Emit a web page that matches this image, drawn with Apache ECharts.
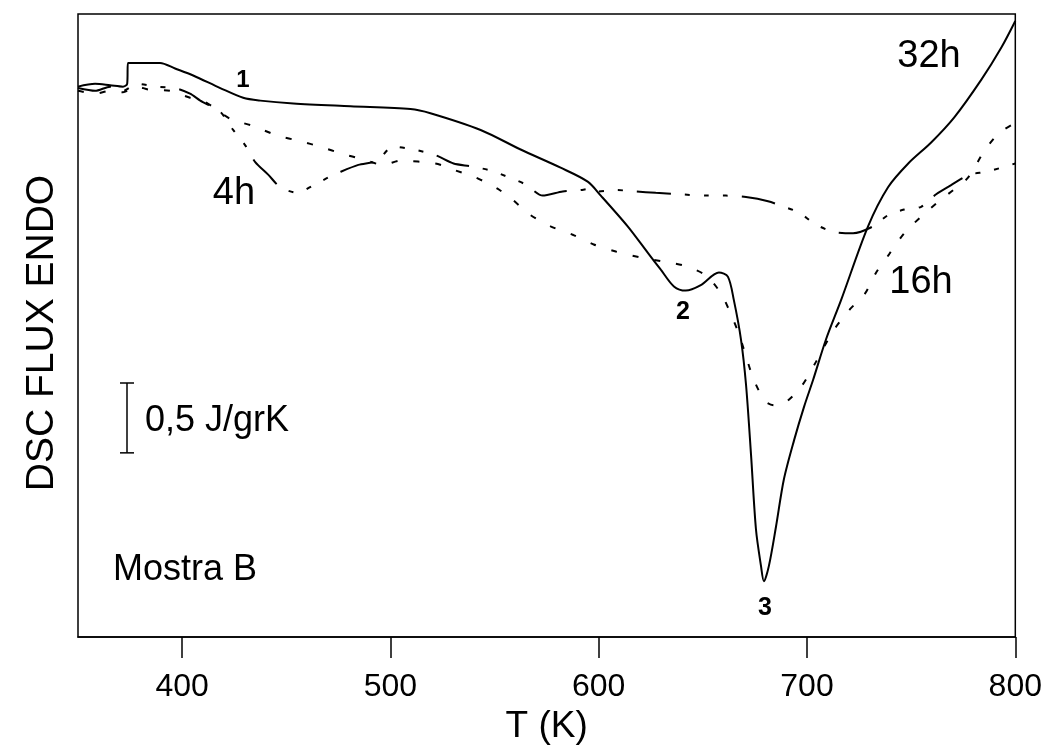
<!DOCTYPE html>
<html>
<head>
<meta charset="utf-8">
<script src="https://cdn.jsdelivr.net/npm/echarts@6/dist/echarts.min.js"></script>
<style>html,body{margin:0;padding:0;background:#fff;}#c{width:1045px;height:750px;}</style>
</head>
<body>
<div id="c"></div>
<script>
// Temperature ticks (K)
const xTicks = [400, 500, 600, 700, 800];

// 32h curve (solid): T (K) and DSC signal (J/grK, relative)
const t32 = [350, 358.2, 365.4, 371.6, 373.6, 374.0, 382.2, 389.4, 396.6, 405.3, 418.3, 429.3, 437.5, 453.4, 480.8, 509.6, 519.2, 543.3, 562.5, 581.7, 594.7, 601.0, 613.9, 623.6, 629.8, 636.1, 641.8, 649.0, 657.7, 662.0, 664.9, 668.3, 670.7, 673.1, 675.5, 677.9, 679.3, 681.7, 685.1, 688.9, 693.8, 698.6, 702.9, 709.1, 716.3, 729.3, 738.9, 748.6, 759.6, 770.7, 783.7, 793.3, 800];
const v32 = [3.94, 3.96, 3.95, 3.94, 3.96, 4.11, 4.11, 4.11, 4.07, 4.02, 3.93, 3.86, 3.84, 3.82, 3.80, 3.78, 3.75, 3.63, 3.49, 3.36, 3.26, 3.16, 2.94, 2.75, 2.63, 2.51, 2.48, 2.52, 2.61, 2.58, 2.41, 2.13, 1.81, 1.31, 0.77, 0.51, 0.40, 0.51, 0.79, 1.13, 1.41, 1.65, 1.84, 2.13, 2.41, 2.94, 3.22, 3.39, 3.54, 3.72, 3.99, 4.22, 4.41];

// 16h curve (short dashes)
const t16 = [350, 358.2, 365.4, 371.6, 378.4, 383.7, 394.2, 403.8, 411.1, 423.1, 433.7, 445.7, 456.7, 466.3, 476.9, 486.5, 496.6, 504.8, 521.6, 531.3, 540.9, 551.4, 558.7, 567.3, 576.9, 587.5, 597.6, 608.2, 619.2, 630.3, 640.9, 651.4, 658.7, 663.5, 667.3, 670.7, 674.5, 679.8, 684.1, 688.9, 697.1, 704.3, 712.5, 720.2, 727.9, 733.2, 739.4, 746.6, 754.8, 762.5, 770.2, 777.4, 785.1, 792.3, 800];
const v16 = [3.91, 3.89, 3.91, 3.90, 3.94, 3.92, 3.91, 3.86, 3.83, 3.71, 3.66, 3.59, 3.55, 3.51, 3.46, 3.42, 3.38, 3.41, 3.39, 3.34, 3.29, 3.21, 3.13, 3.02, 2.94, 2.88, 2.81, 2.76, 2.72, 2.69, 2.66, 2.59, 2.46, 2.31, 2.17, 2.01, 1.84, 1.69, 1.66, 1.67, 1.79, 1.97, 2.19, 2.34, 2.46, 2.61, 2.74, 2.89, 3.01, 3.11, 3.20, 3.29, 3.48, 3.61, 3.68];

// 4h curve (long dash + short dashes)
const t4 = [350, 358.2, 365.4, 371.6, 378.4, 388.0, 396.6, 403.8, 408.7, 418.3, 424.5, 430.3, 435.1, 441.3, 447.1, 455.3, 462.5, 470.2, 476.0, 484.6, 493.8, 501.0, 511.1, 521.6, 530.3, 538.5, 548.1, 555.3, 564.9, 573.1, 582.7, 591.3, 596.2, 599.5, 608.2, 617.8, 627.4, 638.0, 652.4, 661.1, 670.7, 681.3, 688.9, 696.2, 703.4, 712.5, 722.1, 731.7, 738.9, 746.6, 754.8, 762.0, 769.7, 777.9, 786.1, 793.3, 800];
const v4 = [3.93, 3.91, 3.94, 3.91, 3.96, 3.94, 3.93, 3.89, 3.84, 3.76, 3.63, 3.52, 3.40, 3.31, 3.22, 3.18, 3.23, 3.29, 3.33, 3.38, 3.41, 3.51, 3.49, 3.45, 3.39, 3.37, 3.34, 3.30, 3.24, 3.16, 3.19, 3.20, 3.21, 3.19, 3.20, 3.19, 3.18, 3.17, 3.16, 3.16, 3.15, 3.12, 3.08, 3.04, 2.96, 2.90, 2.89, 2.94, 3.02, 3.06, 3.08, 3.17, 3.24, 3.31, 3.33, 3.36, 3.39];

const scaleBarValue = 0.5; // J/grK

function pairs(t, v) { return t.map((x, i) => [x, v[i]]); }

const FONT = '"Liberation Sans", Arial, sans-serif';
const chart = echarts.init(document.getElementById('c'), null, { renderer: 'canvas' });

const option = {
  animation: false,
  backgroundColor: '#ffffff',
  grid: { left: 78, right: 28, top: 14, bottom: 112, show: true, borderColor: '#000', borderWidth: 1.5, backgroundColor: 'transparent' },
  xAxis: {
    type: 'value', min: 350, max: 800,
    name: 'T (K)', nameLocation: 'middle', nameGap: 70,
    nameTextStyle: { fontFamily: FONT, fontSize: 37, color: '#000' },
    axisLine: { show: true, lineStyle: { color: '#000', width: 1.5 } },
    axisTick: { show: true, inside: false, length: 21, customValues: xTicks, lineStyle: { color: '#000', width: 1.5 } },
    axisLabel: { customValues: xTicks, margin: 34, fontFamily: FONT, fontSize: 32, color: '#000' },
    splitLine: { show: false }
  },
  yAxis: { type: 'value', min: 0, max: 4.46, show: false },
  series: [
    { name: '32h', type: 'line', data: pairs(t32, v32), showSymbol: false, symbol: 'none', smooth: 0.3,
      lineStyle: { color: '#000', width: 2, type: 'solid' } },
    { name: '16h', type: 'line', data: pairs(t16, v16), showSymbol: false, symbol: 'none', smooth: 0.25,
      lineStyle: { color: '#000', width: 2, type: [6, 16] } },
    { name: '4h', type: 'line', data: pairs(t4, v4), showSymbol: false, symbol: 'none', smooth: 0.25,
      lineStyle: { color: '#000', width: 2, type: [34, 14, 5, 14, 5, 14, 5, 14] } }
  ]
};
chart.setOption(option);

const y0 = chart.convertToPixel({ yAxisIndex: 0 }, 0);
const y1 = chart.convertToPixel({ yAxisIndex: 0 }, scaleBarValue);
const barLen = Math.abs(y0 - y1);
const barTop = 383, barX = 127;

function txt(text, x, y, size, weight, align) {
  return { type: 'text', x: x, y: y, style: { text: text, fill: '#000', font: (weight || 'normal') + ' ' + size + 'px ' + FONT, textAlign: align || 'center', textVerticalAlign: 'middle' } };
}

chart.setOption({
  graphic: [
    { type: 'text', x: 42, y: 333, rotation: Math.PI / 2,
      style: { text: 'DSC FLUX ENDO', fill: '#000', font: 'normal 39px ' + FONT, textAlign: 'center', textVerticalAlign: 'middle' } },
    txt('32h', 929, 57, 38),
    txt('16h', 921, 283, 38),
    txt('4h', 234, 194, 38),
    txt('1', 243, 80, 24, 'bold'),
    txt('2', 683, 312, 25, 'bold'),
    txt('3', 765, 608, 25, 'bold'),
    txt('Mostra B', 113, 570, 36, 'normal', 'left'),
    txt('0,5 J/grK', 145, 421, 36, 'normal', 'left'),
    { type: 'line', shape: { x1: barX, y1: barTop, x2: barX, y2: barTop + barLen }, style: { stroke: '#000', lineWidth: 1.5 } },
    { type: 'line', shape: { x1: barX - 7, y1: barTop, x2: barX + 7, y2: barTop }, style: { stroke: '#000', lineWidth: 1.5 } },
    { type: 'line', shape: { x1: barX - 7, y1: barTop + barLen, x2: barX + 7, y2: barTop + barLen }, style: { stroke: '#000', lineWidth: 1.5 } }
  ]
});
</script>
</body>
</html>
